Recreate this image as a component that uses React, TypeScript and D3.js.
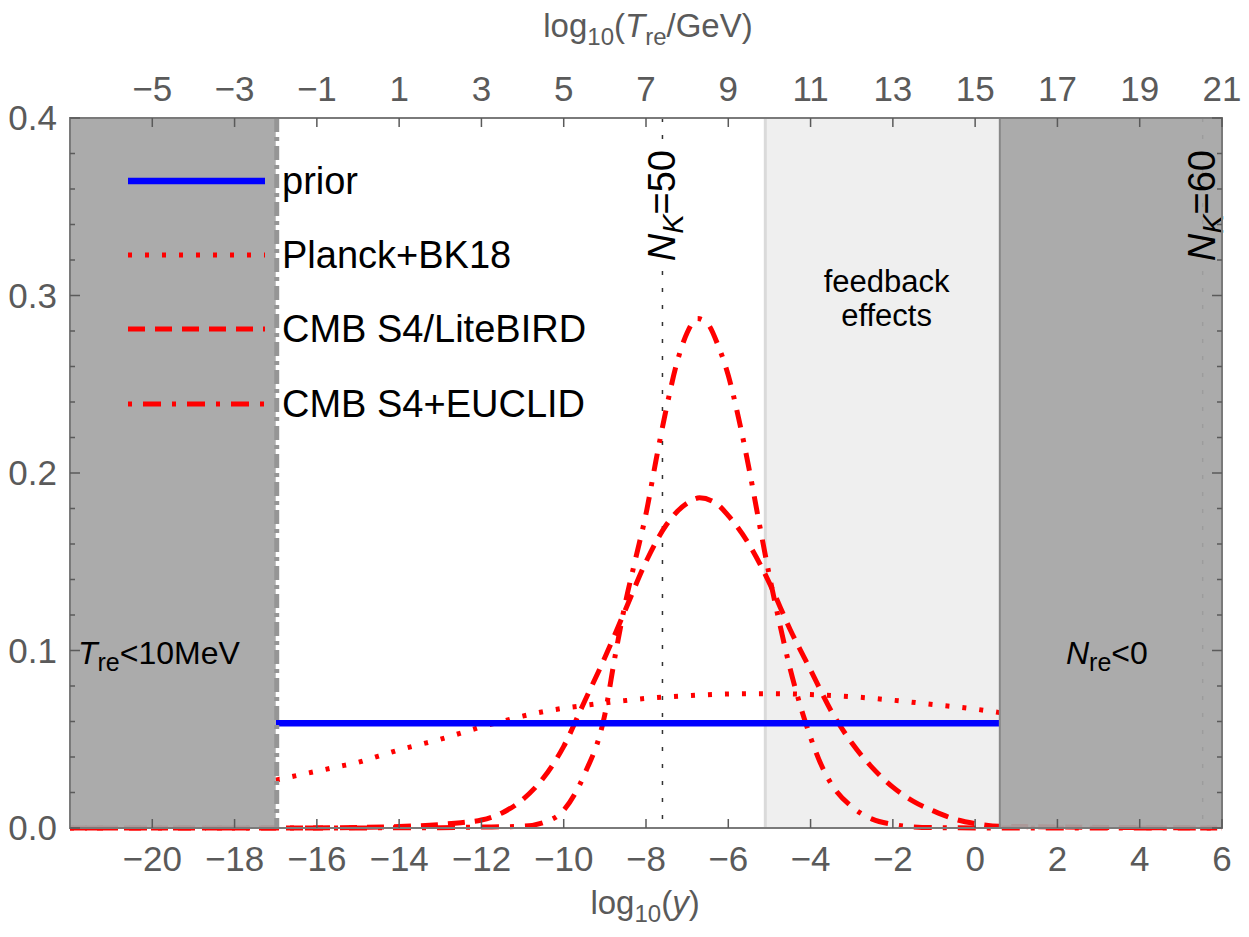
import React from 'react';
import * as d3 from 'd3';

// x axis: log10(y); top axis is log10(T_re/GeV) = log10(y) + 15
const xDomain = [-22, 6];
const yDomain = [0, 0.4];
const bottomTicks = [-20, -18, -16, -14, -12, -10, -8, -6, -4, -2, 0, 2, 4, 6];
const topTicks = [-5, -3, -1, 1, 3, 5, 7, 9, 11, 13, 15, 17, 19, 21];
const yTicks = [0, 0.1, 0.2, 0.3, 0.4];

// shaded regions
const lowCut = -17;      // T_re < 10 MeV
const feedbackCut = -5.1;
const highCut = 0.6;     // N_re < 0
const nk50 = -7.6;
const nk60 = 5.53;

// prior
const priorX = [-17, 0.6];
const priorY = [0.059, 0.059];

// Planck+BK18 (dotted)
const planckX = [-17, -16.5, -16, -15.5, -15, -14.5, -14, -13.5, -13, -12.5, -12, -11.5, -11, -10.5, -10, -9.5, -9, -8.5, -8, -7, -6, -5, -4, -3, -2, -1, 0, 0.6];
const planckY = [0.027, 0.0295, 0.032, 0.0345, 0.037, 0.0405, 0.044, 0.047, 0.050, 0.0535, 0.057, 0.060, 0.063, 0.0655, 0.0675, 0.069, 0.0705, 0.0718, 0.073, 0.0745, 0.0755, 0.0757, 0.0752, 0.074, 0.072, 0.0695, 0.067, 0.065];

// CMB S4/LiteBIRD (dashed)
const liteX = [-22, -17, -15, -14, -13, -12.5, -12, -11.5, -11, -10.5, -10, -9.5, -9, -8.5, -8, -7.5, -7, -6.7, -6.3, -6, -5.5, -5, -4.5, -4, -3.5, -3, -2.5, -2, -1.5, -1, -0.5, 0, 0.6, 6];
const liteY = [0, 0, 0.0003, 0.0008, 0.002, 0.003, 0.0045, 0.0085, 0.016, 0.028, 0.046, 0.071, 0.096, 0.123, 0.150, 0.171, 0.183, 0.186, 0.183, 0.176, 0.160, 0.138, 0.112, 0.089, 0.066, 0.048, 0.034, 0.023, 0.015, 0.0095, 0.005, 0.0025, 0.001, 0];

// CMB S4+EUCLID (dash-dot)
const euclidX = [-22, -17, -13, -12, -11, -10.5, -10, -9.5, -9, -8.75, -8.5, -8.25, -8, -7.75, -7.5, -7.25, -7, -6.75, -6.5, -6.25, -6, -5.75, -5.5, -5.25, -5, -4.75, -4.5, -4.25, -4, -3.75, -3.5, -3, -2.5, -2, -1.5, -1, 0.6, 6];
const euclidY = [0, 0, 0.0002, 0.0005, 0.001, 0.003, 0.010, 0.030, 0.064, 0.097, 0.127, 0.152, 0.177, 0.208, 0.237, 0.262, 0.279, 0.287, 0.284, 0.272, 0.255, 0.231, 0.203, 0.172, 0.142, 0.115, 0.090, 0.069, 0.051, 0.036, 0.025, 0.012, 0.005, 0.002, 0.0006, 0.0002, 0, 0];

const legendItems = [
  { label: "prior", color: "#0000ff", dash: null, width: 6.5 },
  { label: "Planck+BK18", color: "#ff0000", dash: "4 13", width: 5 },
  { label: "CMB S4/LiteBIRD", color: "#ff0000", dash: "17 10", width: 5 },
  { label: "CMB S4+EUCLID", color: "#ff0000", dash: "4 11 18 11", width: 5 },
];

const FONT = "'Liberation Sans', Arial, Helvetica, sans-serif";
const AXIS = "#5a5a5a";

export default function App() {
  const width = 1249;
  const height = 937;
  const left = 70, right = 1222, top = 118, bottom = 828;

  const x = d3.scaleLinear().domain(xDomain).range([left, right]);
  const xTop = d3.scaleLinear().domain([xDomain[0] + 15, xDomain[1] + 15]).range([left, right]);
  const y = d3.scaleLinear().domain(yDomain).range([bottom, top]);

  const line = d3.line<[number, number]>()
    .x(d => x(d[0]))
    .y(d => y(d[1]))
    .curve(d3.curveMonotoneX);

  const zip = (xs: number[], ys: number[]) => xs.map((v, i) => [v, ys[i]] as [number, number]);

  const curves = [
    { pts: zip(liteX, liteY), item: legendItems[2] },
    { pts: zip(euclidX, euclidY), item: legendItems[3] },
    { pts: zip(planckX, planckY), item: legendItems[1] },
    { pts: zip(priorX, priorY), item: legendItems[0] },
  ];

  const minorY = d3.range(0, 0.4001, 0.02);
  const legendY = [181, 255, 329, 404];
  const minus = (t: number) => String(t).replace('-', '\u2212');

  return (
    <svg width={width} height={height} style={{ position: 'absolute', left: 0, top: 0, background: '#fff' }}
      fontFamily={FONT}>
      <rect x={0} y={0} width={width} height={height} fill="#fff" />

      {/* feedback region */}
      <rect x={x(feedbackCut)} y={top} width={x(highCut) - x(feedbackCut)} height={bottom - top} fill="#efefef" />
      <line x1={x(feedbackCut)} x2={x(feedbackCut)} y1={top} y2={bottom} stroke="#dadada" strokeWidth={3} />

      {/* N_k lines */}
      {[nk50, nk60].map((v, i) => (
        <line key={i} x1={x(v)} x2={x(v)} y1={top} y2={bottom} stroke="#333" strokeWidth={1.5} strokeDasharray="4 13" />
      ))}

      {/* curves */}
      {curves.map((c, i) => (
        <path key={i} d={line(c.pts) || ''} fill="none" stroke={c.item.color}
          strokeWidth={c.item.width} strokeDasharray={c.item.dash || undefined} />
      ))}

      {/* excluded regions */}
      <rect x={x(xDomain[0])} y={top} width={x(lowCut) - x(xDomain[0])} height={bottom - top} fill="#a5a5a5" fillOpacity={0.93} />
      <rect x={x(highCut)} y={top} width={x(xDomain[1]) - x(highCut)} height={bottom - top} fill="#a5a5a5" fillOpacity={0.93} />
      <line x1={x(lowCut) + 1} x2={x(lowCut) + 1} y1={top} y2={bottom} stroke="#959595" strokeWidth={5} strokeDasharray="14 5 4 5" />
      <line x1={x(highCut)} x2={x(highCut)} y1={top} y2={bottom} stroke="#888" strokeWidth={2} />

      {/* N_k labels */}
      <g transform={`translate(${x(nk50) + 13},${top + 32}) rotate(-90)`}>
        <rect x={-114} y={-29} width={116} height={38} fill="#fff" />
        <text textAnchor="end" fontSize={38} fill="#000">
          <tspan fontStyle="italic">N</tspan>
          <tspan fontStyle="italic" fontSize={29} dy={8}>K</tspan>
          <tspan dy={-8}>=50</tspan>
        </text>
      </g>
      <g transform={`translate(${x(nk60) + 12},${top + 32}) rotate(-90)`}>
        <text textAnchor="end" fontSize={38} fill="#000">
          <tspan fontStyle="italic">N</tspan>
          <tspan fontStyle="italic" fontSize={29} dy={8}>K</tspan>
          <tspan dy={-8}>=60</tspan>
        </text>
      </g>

      {/* region labels */}
      <text x={(x(feedbackCut) + x(highCut)) / 2 + 4} y={292} textAnchor="middle" fontSize={31} fill="#000">feedback</text>
      <text x={(x(feedbackCut) + x(highCut)) / 2 + 4} y={326} textAnchor="middle" fontSize={31} fill="#000">effects</text>
      <text x={(x(xDomain[0]) + x(lowCut)) / 2 - 14} y={y(0.1) + 13} textAnchor="middle" fontSize={32} fill="#000">
        <tspan fontStyle="italic">T</tspan>
        <tspan fontSize={25} dy={7}>re</tspan>
        <tspan dy={-7}>&lt;10MeV</tspan>
      </text>
      <text x={(x(highCut) + x(xDomain[1])) / 2 - 4} y={y(0.1) + 13} textAnchor="middle" fontSize={32} fill="#000">
        <tspan fontStyle="italic">N</tspan>
        <tspan fontSize={25} dy={7}>re</tspan>
        <tspan dy={-7}>&lt;0</tspan>
      </text>

      {/* legend */}
      {legendItems.map((it, i) => (
        <g key={it.label}>
          <line x1={128} x2={265} y1={legendY[i]} y2={legendY[i]} stroke={it.color} strokeWidth={it.width}
            strokeDasharray={it.dash || undefined} />
          <text x={282} y={legendY[i] + 13} fontSize={38} fill="#000">{it.label}</text>
        </g>
      ))}

      {/* frame */}
      <rect x={left} y={top} width={right - left} height={bottom - top} fill="none" stroke="#7a7a7a" strokeWidth={2} />

      {/* ticks: bottom & top */}
      {bottomTicks.map(t => (
        <g key={'b' + t}>
          <line x1={x(t)} x2={x(t)} y1={bottom} y2={bottom - 9} stroke={AXIS} strokeWidth={1.5} />
          <text x={x(t)} y={bottom + 43} textAnchor="middle" fontSize={35} fill={AXIS}>{minus(t)}</text>
        </g>
      ))}
      {topTicks.map(t => (
        <g key={'t' + t}>
          <line x1={xTop(t)} x2={xTop(t)} y1={top} y2={top + 9} stroke={AXIS} strokeWidth={1.5} />
          <text x={xTop(t)} y={top - 17} textAnchor="middle" fontSize={35} fill={AXIS}>{minus(t)}</text>
        </g>
      ))}

      {/* ticks: left & right */}
      {minorY.map((t, i) => {
        const major = i % 5 === 0;
        const len = major ? 10 : 5;
        return (
          <g key={'y' + i}>
            <line x1={left} x2={left + len} y1={y(t)} y2={y(t)} stroke={AXIS} strokeWidth={1.5} />
            <line x1={right} x2={right - len} y1={y(t)} y2={y(t)} stroke={AXIS} strokeWidth={1.5} />
          </g>
        );
      })}
      {yTicks.map(t => (
        <text key={'yl' + t} x={left - 13} y={y(t) + 12} textAnchor="end" fontSize={35} fill={AXIS}>{d3.format(".1f")(t)}</text>
      ))}

      {/* axis titles */}
      <text x={645} y={914} textAnchor="middle" fontSize={33} fill={AXIS}>
        log<tspan fontSize={24} dy={8}>10</tspan><tspan dy={-8}>(</tspan><tspan fontStyle="italic">y</tspan>)
      </text>
      <text x={648} y={37} textAnchor="middle" fontSize={33} fill={AXIS}>
        log<tspan fontSize={24} dy={8}>10</tspan><tspan dy={-8}>(</tspan><tspan fontStyle="italic">T</tspan>
        <tspan fontSize={24} dy={8}>re</tspan><tspan dy={-8}>/GeV)</tspan>
      </text>
    </svg>
  );
}
